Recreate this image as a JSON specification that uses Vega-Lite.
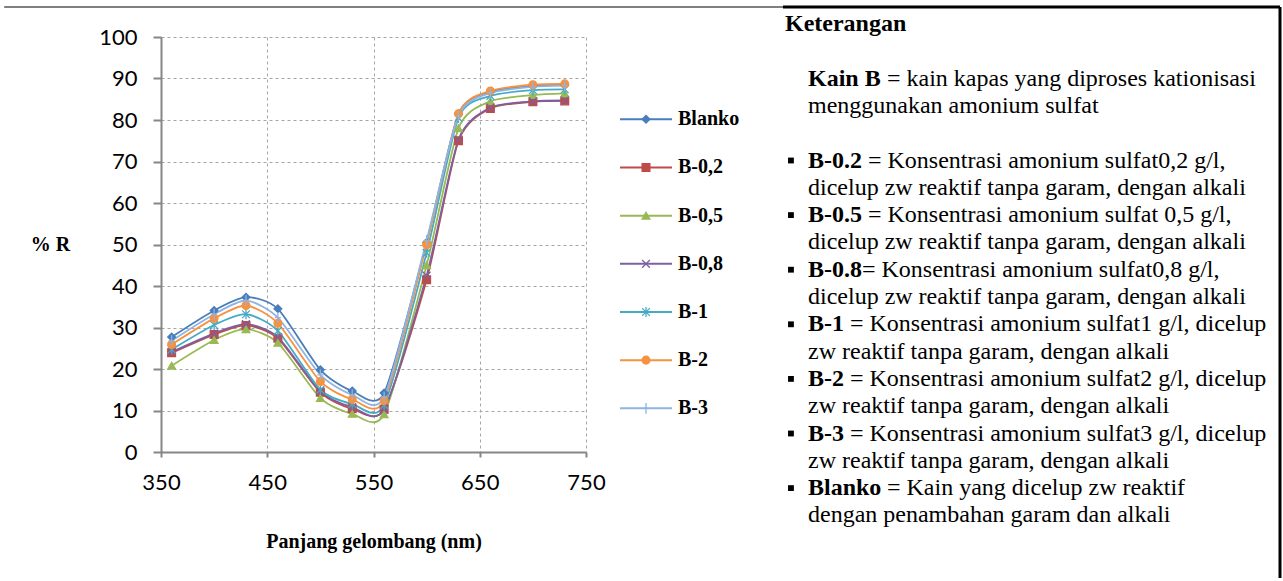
{
  "$schema": "https://vega.github.io/schema/vega-lite/v6.json",
  "background": "white",
  "padding": {"left": 3, "top": 5, "right": 0, "bottom": 0},
  "bounds": "flush",
  "spacing": 34,
  "config": {"view": {"stroke": null}, "font": "Liberation Serif"},
  "resolve": {"scale": {"x": "independent", "y": "independent", "shape": "independent", "fill": "independent", "stroke": "independent"}},
  "datasets": {
    "spectra": [
      {"nm": 360, "Blanko": 27.7, "B-0,2": 23.9, "B-0,5": 20.8, "B-0,8": 24.1, "B-1": 24.7, "B-2": 25.9, "B-3": 26.8},
      {"nm": 400, "Blanko": 34.1, "B-0,2": 28.3, "B-0,5": 27.0, "B-0,8": 28.6, "B-1": 30.6, "B-2": 32.2, "B-3": 33.2},
      {"nm": 430, "Blanko": 37.3, "B-0,2": 30.5, "B-0,5": 29.6, "B-0,8": 30.8, "B-1": 33.2, "B-2": 35.3, "B-3": 36.5},
      {"nm": 460, "Blanko": 34.5, "B-0,2": 27.4, "B-0,5": 26.3, "B-0,8": 27.7, "B-1": 29.2, "B-2": 31.0, "B-3": 32.4},
      {"nm": 500, "Blanko": 19.8, "B-0,2": 14.4, "B-0,5": 13.0, "B-0,8": 14.6, "B-1": 15.0, "B-2": 17.0, "B-3": 18.6},
      {"nm": 530, "Blanko": 14.7, "B-0,2": 10.4, "B-0,5": 9.2, "B-0,8": 10.8, "B-1": 11.6, "B-2": 12.7, "B-3": 13.8},
      {"nm": 560, "Blanko": 14.2, "B-0,2": 10.3, "B-0,5": 9.1, "B-0,8": 10.2, "B-1": 11.3, "B-2": 12.4, "B-3": 13.2},
      {"nm": 600, "Blanko": 50.5, "B-0,2": 41.5, "B-0,5": 45.0, "B-0,8": 42.5, "B-1": 48.0, "B-2": 50.0, "B-3": 51.0},
      {"nm": 630, "Blanko": 81.5, "B-0,2": 75.0, "B-0,5": 78.0, "B-0,8": 75.3, "B-1": 80.5, "B-2": 81.5, "B-3": 81.0},
      {"nm": 660, "Blanko": 86.8, "B-0,2": 82.8, "B-0,5": 84.5, "B-0,8": 83.0, "B-1": 85.8, "B-2": 87.0, "B-3": 86.5},
      {"nm": 700, "Blanko": 88.3, "B-0,2": 84.4, "B-0,5": 86.0, "B-0,8": 84.5, "B-1": 87.2, "B-2": 88.5, "B-3": 88.0},
      {"nm": 730, "Blanko": 88.5, "B-0,2": 84.6, "B-0,5": 86.4, "B-0,8": 84.7, "B-1": 87.4, "B-2": 88.7, "B-3": 88.3}
    ],
    "series": [
      {"s": "Blanko"}, {"s": "B-0,2"}, {"s": "B-0,5"}, {"s": "B-0,8"}, {"s": "B-1"}, {"s": "B-2"}, {"s": "B-3"}
    ],
    "notes": [
      {"line": 0, "bul": false, "b": "Keterangan", "t": ""},
      {"line": 2, "bul": false, "b": "Kain B", "t": "= kain kapas yang diproses kationisasi"},
      {"line": 3, "bul": false, "b": "", "t": "menggunakan amonium sulfat"},
      {"line": 5, "bul": true, "b": "B-0.2", "t": "= Konsentrasi amonium sulfat0,2 g/l,"},
      {"line": 6, "bul": false, "b": "", "t": "dicelup zw reaktif  tanpa garam, dengan alkali"},
      {"line": 7, "bul": true, "b": "B-0.5", "t": "= Konsentrasi amonium sulfat 0,5 g/l,"},
      {"line": 8, "bul": false, "b": "", "t": "dicelup zw reaktif  tanpa garam, dengan alkali"},
      {"line": 9, "bul": true, "b": "B-0.8", "t": "= Konsentrasi amonium sulfat0,8 g/l,"},
      {"line": 10, "bul": false, "b": "", "t": "dicelup zw reaktif  tanpa garam, dengan alkali"},
      {"line": 11, "bul": true, "b": "B-1", "t": "= Konsentrasi amonium sulfat1 g/l, dicelup"},
      {"line": 12, "bul": false, "b": "", "t": "zw reaktif  tanpa garam, dengan alkali"},
      {"line": 13, "bul": true, "b": "B-2", "t": "= Konsentrasi amonium sulfat2 g/l, dicelup"},
      {"line": 14, "bul": false, "b": "", "t": "zw reaktif  tanpa garam, dengan alkali"},
      {"line": 15, "bul": true, "b": "B-3", "t": "= Konsentrasi amonium sulfat3 g/l, dicelup"},
      {"line": 16, "bul": false, "b": "", "t": "zw reaktif  tanpa garam, dengan alkali"},
      {"line": 17, "bul": true, "b": "Blanko", "t": "= Kain yang dicelup zw reaktif"},
      {"line": 18, "bul": false, "b": "", "t": "dengan penambahan garam dan alkali"}
    ]
  },
  "hconcat": [
    {
      "width": 425,
      "height": 415,
      "data": {"name": "spectra"},
      "transform": [{"fold": ["Blanko", "B-0,2", "B-0,5", "B-0,8", "B-1", "B-2", "B-3"], "as": ["s", "r"]}],
      "encoding": {
        "x": {
          "field": "nm", "type": "quantitative",
          "scale": {"domain": [350, 750], "nice": false, "zero": false},
          "axis": {
            "values": [350, 450, 550, 650, 750],
            "grid": true, "gridDash": [3, 3], "gridColor": "#A6A6A6", "gridWidth": 1,
            "domainColor": "#868686", "domainWidth": 2,
            "tickColor": "#868686", "tickWidth": 2, "tickSize": 5,
            "labelFont": "Lato", "labelFontSize": 22, "labelColor": "black", "labelPadding": 15, "labelFlush": false,
            "title": "Panjang gelombang (nm)", "titleFont": "Liberation Serif", "titleFontWeight": "bold",
            "titleFontSize": 20, "titleColor": "black", "titleY": 89, "titleBaseline": "middle"
          }
        },
        "y": {
          "field": "r", "type": "quantitative",
          "scale": {"domain": [0, 100], "nice": false},
          "axis": {
            "values": [0, 10, 20, 30, 40, 50, 60, 70, 80, 90, 100],
            "grid": true, "gridDash": [3, 3], "gridColor": "#A6A6A6", "gridWidth": 1,
            "domainColor": "#868686", "domainWidth": 2,
            "tickColor": "#868686", "tickWidth": 2, "tickSize": 8,
            "labelFont": "Lato", "labelFontSize": 22, "labelColor": "black", "labelPadding": 16,
            "title": "% R", "titleFont": "Liberation Serif", "titleFontWeight": "bold",
            "titleFontSize": 20, "titleColor": "black", "titleAngle": 0,
            "titleX": -111, "titleY": 207, "titleAlign": "center", "titleBaseline": "middle"
          }
        }
      },
      "layer": [
        {
          "mark": {"type": "line", "interpolate": "cardinal", "tension": 0.3, "strokeWidth": 1.8},
          "encoding": {
            "stroke": {
              "field": "s", "type": "nominal", "legend": null,
              "scale": {"domain": ["Blanko", "B-0,2", "B-0,5", "B-0,8", "B-1", "B-2", "B-3"],
                        "range": ["#4A7EBB", "#BE4B48", "#98B954", "#7D60A0", "#46AAC5", "#F69240", "#8EB4E3"]}
            }
          }
        },
        {
          "mark": {"type": "point", "filled": true, "opacity": 1, "size": 60, "strokeWidth": 1.3},
          "encoding": {
            "shape": {
              "field": "s", "type": "nominal", "legend": null,
              "scale": {"domain": ["Blanko", "B-0,2", "B-0,5", "B-0,8", "B-1", "B-2", "B-3"],
                        "range": ["diamond", "square", "triangle-up", "M-1,-1L1,1M-1,1L1,-1", "M-1,-1L1,1M-1,1L1,-1M0,-1.3L0,1.3", "circle", "M-0.8,0L0.8,0M0,-1.4L0,1.4"]}
            },
            "fill": {
              "field": "s", "type": "nominal", "legend": null,
              "scale": {"domain": ["Blanko", "B-0,2", "B-0,5", "B-0,8", "B-1", "B-2", "B-3"],
                        "range": ["#4A7EBB", "#BE4B48", "#98B954", "#7D60A0", "#46AAC5", "#F69240", "#8EB4E3"]}
            },
            "stroke": {
              "field": "s", "type": "nominal", "legend": null,
              "scale": {"domain": ["Blanko", "B-0,2", "B-0,5", "B-0,8", "B-1", "B-2", "B-3"],
                        "range": ["#4A7EBB", "#BE4B48", "#98B954", "#7D60A0", "#46AAC5", "#F69240", "#8EB4E3"]}
            }
          }
        }
      ]
    },
    {
      "width": 129,
      "height": 415,
      "data": {"name": "series"},
      "encoding": {
        "y": {
          "field": "s", "type": "nominal", "axis": null,
          "scale": {"type": "point", "padding": 0, "domain": ["Blanko", "B-0,2", "B-0,5", "B-0,8", "B-1", "B-2", "B-3"], "range": [82.3, 371.3]}
        }
      },
      "layer": [
        {
          "mark": {"type": "rule", "strokeWidth": 2},
          "encoding": {
            "x": {"datum": 0, "type": "quantitative", "scale": {"domain": [0, 1], "range": [0, 52]}, "axis": null},
            "x2": {"datum": 1},
            "stroke": {
              "field": "s", "type": "nominal", "legend": null,
              "scale": {"domain": ["Blanko", "B-0,2", "B-0,5", "B-0,8", "B-1", "B-2", "B-3"],
                        "range": ["#4A7EBB", "#BE4B48", "#98B954", "#7D60A0", "#46AAC5", "#F69240", "#8EB4E3"]}
            }
          }
        },
        {
          "mark": {"type": "point", "filled": true, "opacity": 1, "size": 60, "strokeWidth": 1.3},
          "encoding": {
            "x": {"datum": 0.5, "type": "quantitative"},
            "shape": {
              "field": "s", "type": "nominal", "legend": null,
              "scale": {"domain": ["Blanko", "B-0,2", "B-0,5", "B-0,8", "B-1", "B-2", "B-3"],
                        "range": ["diamond", "square", "triangle-up", "M-1,-1L1,1M-1,1L1,-1", "M-1,-1L1,1M-1,1L1,-1M0,-1.3L0,1.3", "circle", "M-0.8,0L0.8,0M0,-1.4L0,1.4"]}
            },
            "fill": {
              "field": "s", "type": "nominal", "legend": null,
              "scale": {"domain": ["Blanko", "B-0,2", "B-0,5", "B-0,8", "B-1", "B-2", "B-3"],
                        "range": ["#4A7EBB", "#BE4B48", "#98B954", "#7D60A0", "#46AAC5", "#F69240", "#8EB4E3"]}
            },
            "stroke": {
              "field": "s", "type": "nominal", "legend": null,
              "scale": {"domain": ["Blanko", "B-0,2", "B-0,5", "B-0,8", "B-1", "B-2", "B-3"],
                        "range": ["#4A7EBB", "#BE4B48", "#98B954", "#7D60A0", "#46AAC5", "#F69240", "#8EB4E3"]}
            }
          }
        },
        {
          "mark": {"type": "text", "align": "left", "baseline": "middle", "dx": 6, "font": "Liberation Serif", "fontWeight": "bold", "fontSize": 20, "color": "black"},
          "encoding": {
            "x": {"datum": 1, "type": "quantitative"},
            "text": {"field": "s"}
          }
        }
      ]
    },
    {
      "width": 497,
      "height": 415,
      "data": {"name": "notes"},
      "encoding": {
        "y": {"field": "line", "type": "quantitative", "axis": null, "scale": {"domain": [0, 18], "range": [-13, 478.4]}}
      },
      "layer": [
        {
          "transform": [{"filter": "datum.line === 0"}],
          "mark": {"type": "rule", "stroke": "#7F7F7F", "strokeWidth": 2},
          "encoding": {
            "x": {"datum": -156.7, "type": "quantitative", "scale": {"domain": [0, 100], "range": [0, 497]}, "axis": null},
            "x2": {"datum": 0},
            "y": {"datum": -0.623, "type": "quantitative"}
          }
        },
        {
          "transform": [{"filter": "datum.line === 0"}],
          "mark": {"type": "rule", "stroke": "black", "strokeWidth": 3},
          "encoding": {
            "x": {"datum": 0, "type": "quantitative"},
            "x2": {"datum": 100},
            "y": {"datum": -0.623, "type": "quantitative"}
          }
        },
        {
          "transform": [{"filter": "datum.line === 0"}],
          "mark": {"type": "rule", "stroke": "black", "strokeWidth": 3},
          "encoding": {
            "x": {"datum": 100, "type": "quantitative"},
            "y": {"datum": -0.623, "type": "quantitative"},
            "y2": {"datum": 20.29}
          }
        },
        {
          "transform": [{"filter": "datum.bul"}],
          "mark": {"type": "point", "shape": "square", "filled": true, "color": "black", "opacity": 1, "size": 34},
          "encoding": {"x": {"datum": 1.6, "type": "quantitative"}}
        },
        {
          "transform": [{"filter": "datum.line === 0"}],
          "mark": {"type": "text", "align": "left", "baseline": "middle", "font": "Liberation Serif", "fontWeight": "bold", "fontSize": 24, "color": "black"},
          "encoding": {"x": {"datum": 0.4, "type": "quantitative"}, "text": {"field": "b"}}
        },
        {
          "transform": [{"filter": "datum.b !== '' && datum.line > 0"}],
          "mark": {"type": "text", "align": "left", "baseline": "middle", "font": "Liberation Serif", "fontWeight": "bold", "fontSize": 24, "color": "black"},
          "encoding": {"x": {"datum": 5.03, "type": "quantitative"}, "text": {"field": "b"}}
        },
        {
          "transform": [{"filter": "datum.b === 'Kain B' || datum.b === 'Blanko'"}],
          "mark": {"type": "text", "align": "left", "baseline": "middle", "dx": 79, "font": "Liberation Serif", "fontSize": 24, "color": "black"},
          "encoding": {"x": {"datum": 5.03, "type": "quantitative"}, "text": {"field": "t"}}
        },
        {
          "transform": [{"filter": "datum.b === 'B-0.2' || datum.b === 'B-0.5'"}],
          "mark": {"type": "text", "align": "left", "baseline": "middle", "dx": 60, "font": "Liberation Serif", "fontSize": 24, "color": "black"},
          "encoding": {"x": {"datum": 5.03, "type": "quantitative"}, "text": {"field": "t"}}
        },
        {
          "transform": [{"filter": "datum.b === 'B-0.8'"}],
          "mark": {"type": "text", "align": "left", "baseline": "middle", "dx": 54, "font": "Liberation Serif", "fontSize": 24, "color": "black"},
          "encoding": {"x": {"datum": 5.03, "type": "quantitative"}, "text": {"field": "t"}}
        },
        {
          "transform": [{"filter": "datum.b === 'B-1' || datum.b === 'B-2' || datum.b === 'B-3'"}],
          "mark": {"type": "text", "align": "left", "baseline": "middle", "dx": 42, "font": "Liberation Serif", "fontSize": 24, "color": "black"},
          "encoding": {"x": {"datum": 5.03, "type": "quantitative"}, "text": {"field": "t"}}
        },
        {
          "transform": [{"filter": "datum.b === '' && datum.line > 0"}],
          "mark": {"type": "text", "align": "left", "baseline": "middle", "font": "Liberation Serif", "fontSize": 24, "color": "black"},
          "encoding": {"x": {"datum": 5.03, "type": "quantitative"}, "text": {"field": "t"}}
        }
      ]
    }
  ]
}
